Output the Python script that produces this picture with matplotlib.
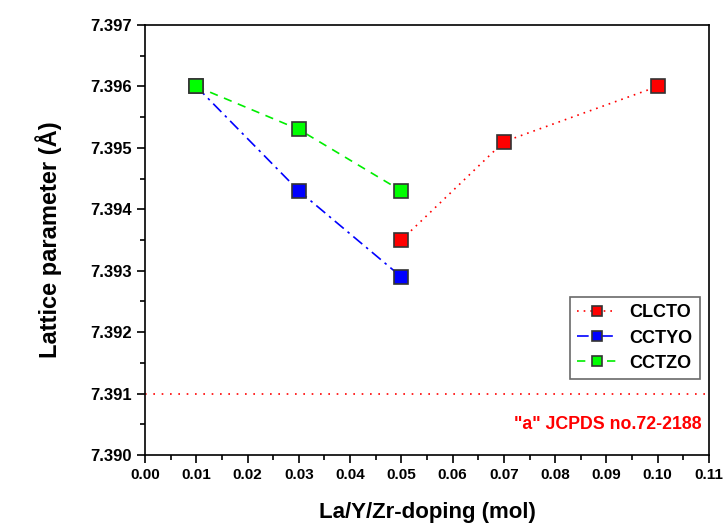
import matplotlib.pyplot as plt
from matplotlib.ticker import MultipleLocator, FormatStrFormatter

plt.rcParams['font.family'] = ['Liberation Sans', 'DejaVu Sans']
plt.rcParams['font.weight'] = 'bold'

# data
x_clcto = [0.05, 0.07, 0.10]
y_clcto = [7.3935, 7.3951, 7.3960]
x_cctyo = [0.01, 0.03, 0.05]
y_cctyo = [7.3960, 7.3943, 7.3929]
x_cctzo = [0.01, 0.03, 0.05]
y_cctzo = [7.3960, 7.3953, 7.3943]
jcpds_a = 7.391

fig = plt.figure(figsize=(7.24, 5.27), dpi=100)
ax = fig.add_axes([145 / 724, 1 - 455 / 527, 564 / 724, 430 / 527])

mk = dict(marker='s', markersize=10, markeredgecolor='#333333', markeredgewidth=1.2)
ax.plot(x_clcto, y_clcto, color='red', linestyle=(0, (1, 3)), linewidth=1.2,
        markerfacecolor='red', label='CLCTO', **mk)
ax.plot(x_cctyo, y_cctyo, color='blue', linestyle=(0, (7, 3, 1.5, 3)), linewidth=1.2,
        markerfacecolor='blue', label='CCTYO', **mk)
ax.plot(x_cctzo, y_cctzo, color='#00ee00', linestyle=(0, (5, 4)), linewidth=1.2,
        markerfacecolor='#00ff00', label='CCTZO', **mk)

ax.axhline(jcpds_a, color='red', linestyle=(0, (1, 4)), linewidth=1.2)
ax.text(0.1085, 7.3905, '"a" JCPDS no.72-2188', color='red', fontsize=12.8,
        fontweight='bold', ha='right', va='center')

ax.set_xlim(0, 0.11)
ax.set_ylim(7.390, 7.397)
ax.xaxis.set_major_locator(MultipleLocator(0.01))
ax.xaxis.set_minor_locator(MultipleLocator(0.005))
ax.yaxis.set_major_locator(MultipleLocator(0.001))
ax.yaxis.set_minor_locator(MultipleLocator(0.0005))
ax.xaxis.set_major_formatter(FormatStrFormatter('%.2f'))
ax.yaxis.set_major_formatter(FormatStrFormatter('%.3f'))
ax.tick_params(which='major', direction='out', length=6, width=1.2)
ax.tick_params(which='minor', direction='out', length=3.5, width=1.2)
ax.tick_params(axis='x', labelsize=11)
ax.tick_params(axis='y', labelsize=12)
for sp in ax.spines.values():
    sp.set_linewidth(1.2)

ax.set_xlabel('La/Y/Zr-doping (mol)', fontsize=16, fontweight='bold', labelpad=14)
ax.set_ylabel('Lattice parameter (Å)', fontsize=17, fontweight='bold', labelpad=20)

leg = ax.legend(loc='upper right', bbox_to_anchor=(0.984, 0.367), fontsize=13,
                frameon=True, fancybox=False, handlelength=2.2, handletextpad=0.7,
                borderpad=0.4, borderaxespad=0, labelspacing=0.45, markerscale=0.75)
leg.get_frame().set_edgecolor('#444444')
leg.get_frame().set_linewidth(1.2)

fig.savefig('out.png', dpi=100, facecolor='white')
